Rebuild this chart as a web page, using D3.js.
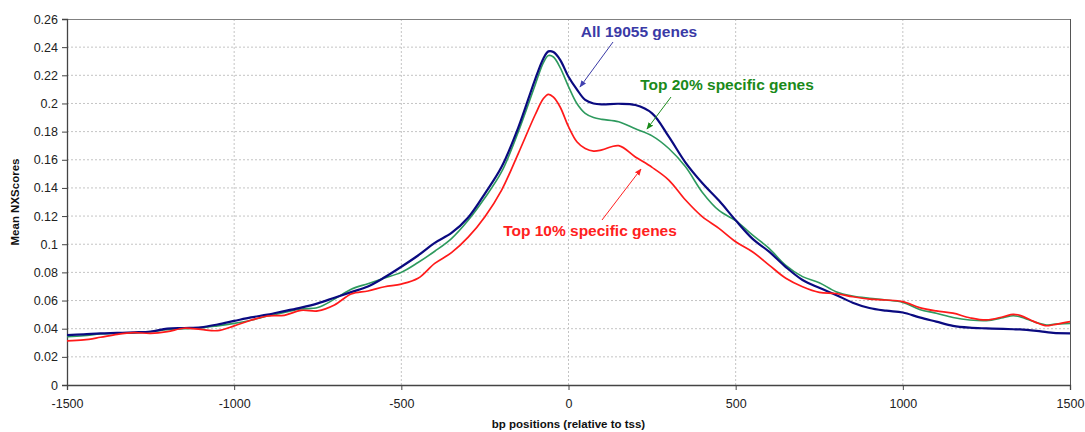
<!DOCTYPE html>
<html>
<head>
<meta charset="utf-8">
<script src="https://cdn.jsdelivr.net/npm/d3@7"></script>
<style>
  html, body { margin: 0; padding: 0; background: #fff; }
  svg { display: block; font-family: "Liberation Sans", Arial, sans-serif; }
</style>
</head>
<body>
<svg id="chart" width="1085" height="432"></svg>
<script>
const positions = [-1500,-1450,-1400,-1350,-1300,-1250,-1200,-1150,-1100,-1050,-1000,-950,-900,-850,-800,-750,-700,-650,-600,-550,-500,-450,-400,-350,-300,-250,-200,-150,-100,-75,-60,-45,-25,0,25,50,75,100,150,200,250,300,350,400,450,500,550,600,650,700,750,800,850,900,950,1000,1050,1100,1150,1200,1250,1300,1330,1350,1400,1430,1450,1500];

const allGenes = [0.0355,0.036,0.0367,0.037,0.0374,0.038,0.040,0.0405,0.041,0.043,0.0455,0.048,0.050,0.0525,0.055,0.058,0.062,0.066,0.070,0.0765,0.084,0.092,0.101,0.108,0.119,0.136,0.155,0.183,0.217,0.232,0.237,0.2365,0.231,0.219,0.210,0.2025,0.200,0.1994,0.1998,0.1989,0.193,0.1764,0.158,0.1435,0.131,0.117,0.104,0.0947,0.0838,0.0746,0.069,0.064,0.0585,0.0547,0.0528,0.0515,0.048,0.045,0.042,0.0407,0.0402,0.0398,0.0396,0.0395,0.0384,0.0375,0.037,0.0367];

const top20 = [0.0343,0.035,0.0362,0.0368,0.037,0.0378,0.0392,0.040,0.0405,0.042,0.0438,0.046,0.049,0.0515,0.054,0.055,0.061,0.068,0.072,0.076,0.080,0.087,0.095,0.104,0.117,0.133,0.1515,0.180,0.213,0.229,0.234,0.233,0.2255,0.212,0.200,0.193,0.190,0.1887,0.187,0.182,0.177,0.168,0.155,0.137,0.124,0.1167,0.1066,0.097,0.085,0.077,0.0727,0.0663,0.0632,0.0616,0.0604,0.0587,0.0537,0.051,0.048,0.0462,0.0457,0.0478,0.0492,0.0485,0.0443,0.0426,0.0431,0.0438];

const top10 = [0.0313,0.032,0.0339,0.036,0.0372,0.0367,0.0379,0.0403,0.0395,0.0386,0.042,0.046,0.049,0.0495,0.053,0.0526,0.0568,0.0647,0.0668,0.0698,0.0717,0.0758,0.0864,0.094,0.105,0.1196,0.1385,0.1646,0.1918,0.2035,0.2065,0.2045,0.1975,0.1835,0.1728,0.168,0.1662,0.167,0.170,0.162,0.1546,0.1456,0.1314,0.1196,0.1113,0.1018,0.0947,0.0852,0.0758,0.0698,0.0658,0.065,0.0627,0.061,0.0604,0.0592,0.055,0.0526,0.051,0.0478,0.0462,0.0485,0.0502,0.0495,0.0443,0.0421,0.0428,0.045];

const xTicks = [-1500,-1000,-500,0,500,1000,1500];
const yTicks = [0,0.02,0.04,0.06,0.08,0.1,0.12,0.14,0.16,0.18,0.2,0.22,0.24,0.26];
const xTitle = "bp positions (relative to tss)";
const yTitle = "Mean NXScores";
const labels = ["All 19055 genes", "Top 20% specific genes", "Top 10% specific genes"];

const svg = d3.select("#chart");
const L = 67, R = 1070, T = 19, B = 385;
const x = d3.scaleLinear().domain([-1500, 1500]).range([L, R]);
const y = d3.scaleLinear().domain([0, 0.26]).range([B, T]);

// gridlines
const grid = svg.append("g").attr("stroke", "#c4c4c4").attr("stroke-width", 1).attr("stroke-dasharray", "2,2");
xTicks.slice(1, -1).forEach(t => grid.append("line").attr("x1", x(t)).attr("x2", x(t)).attr("y1", T).attr("y2", B));
yTicks.slice(1, -1).forEach(t => grid.append("line").attr("x1", L).attr("x2", R).attr("y1", y(t)).attr("y2", y(t)));

// frame top/right
svg.append("line").attr("x1", L).attr("x2", R).attr("y1", T + 0.5).attr("y2", T + 0.5).attr("stroke", "#808080");
svg.append("line").attr("x1", R + 0.5).attr("x2", R + 0.5).attr("y1", T).attr("y2", B).attr("stroke", "#555");

// axes
const fmt = d => String(+d.toFixed(2));
const yAxis = svg.append("g").attr("transform", `translate(${L},0)`)
  .call(d3.axisLeft(y).tickValues(yTicks).tickFormat(fmt).tickSize(5).tickPadding(4));
const xAxis = svg.append("g").attr("transform", `translate(0,${B})`)
  .call(d3.axisBottom(x).tickValues(xTicks).tickFormat(d => String(d)).tickSize(5).tickPadding(9));
[yAxis, xAxis].forEach(a => {
  a.select(".domain").attr("stroke", "#444").attr("stroke-width", 1.3);
  a.selectAll(".tick line").attr("stroke", "#444");
  a.selectAll(".tick text").attr("font-size", 12.5).attr("fill", "#222")
    .attr("font-family", "'Liberation Sans', Arial, sans-serif");
});

// titles
svg.append("text").attr("x", (L + R) / 2).attr("y", 428).attr("text-anchor", "middle")
  .attr("font-size", 11.5).attr("font-weight", "bold").attr("fill", "#111").text(xTitle);
svg.append("text").attr("transform", `translate(19,${(T + B) / 2}) rotate(-90)`).attr("text-anchor", "middle")
  .attr("font-size", 11.5).attr("font-weight", "bold").attr("fill", "#111").text(yTitle);

// lines
const line = d3.line().x(d => x(d[0])).y(d => y(d[1])).curve(d3.curveCatmullRom.alpha(0.5));
const series = [
  { vals: top20, color: "#2e9a5e", w: 1.6 },
  { vals: allGenes, color: "#0a0a80", w: 2.2 },
  { vals: top10, color: "#ff1a1a", w: 1.7 }
];
series.forEach(s => {
  svg.append("path").datum(positions.map((p, i) => [p, s.vals[i]]))
    .attr("fill", "none").attr("stroke", s.color).attr("stroke-width", s.w)
    .attr("stroke-linejoin", "round").attr("d", line);
});

// arrow markers
const defs = svg.append("defs");
const addMarker = (id, color) => defs.append("marker").attr("id", id)
  .attr("viewBox", "0 0 10 10").attr("refX", 9).attr("refY", 5)
  .attr("markerWidth", 7).attr("markerHeight", 7).attr("orient", "auto")
  .append("path").attr("d", "M0,1 L10,5 L0,9 Z").attr("fill", color);
addMarker("mB", "#4040b0");
addMarker("mG", "#1a8a1a");
addMarker("mR", "#ff2020");

// annotations
const ann = [
  { text: labels[0], color: "#3a3aa6", tx: 639, ty: 37, a: [613, 42, 580, 87], m: "mB" },
  { text: labels[1], color: "#1a8a1a", tx: 727, ty: 90, a: [671, 97, 647, 129], m: "mG" },
  { text: labels[2], color: "#ff2020", tx: 590, ty: 236, a: [602, 220, 641, 169], m: "mR" }
];
ann.forEach(d => {
  svg.append("line").attr("x1", d.a[0]).attr("y1", d.a[1]).attr("x2", d.a[2]).attr("y2", d.a[3])
    .attr("stroke", d.color).attr("stroke-width", 1).attr("marker-end", `url(#${d.m})`);
  svg.append("text").attr("x", d.tx).attr("y", d.ty).attr("text-anchor", "middle")
    .attr("font-size", 15.5).attr("font-weight", "bold").attr("fill", d.color).text(d.text);
});
</script>
</body>
</html>
